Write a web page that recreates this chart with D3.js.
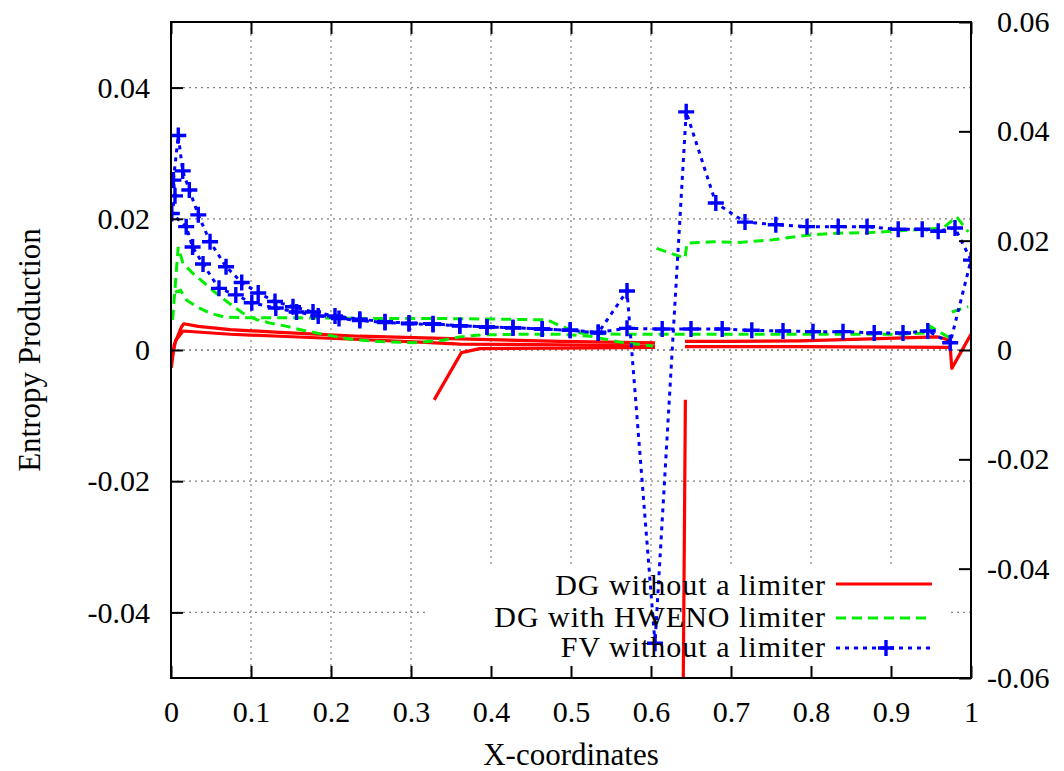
<!DOCTYPE html>
<html>
<head>
<meta charset="utf-8">
<script src="https://cdn.jsdelivr.net/npm/d3@7"></script>
<style>
  html, body { margin: 0; padding: 0; background: #fff; }
  svg { display: block; }
  text { font-family: "Liberation Serif", "DejaVu Serif", serif; fill: #000; }
</style>
</head>
<body>
<svg id="chart" width="1064" height="771"></svg>
<script>
// ---------------- data ----------------
const xTicks = [0, 0.1, 0.2, 0.3, 0.4, 0.5, 0.6, 0.7, 0.8, 0.9, 1];
const xTickLabels = ["0", "0.1", "0.2", "0.3", "0.4", "0.5", "0.6", "0.7", "0.8", "0.9", "1"];
const yTicks = [-0.04, -0.02, 0, 0.02, 0.04];
const yTickLabels = ["-0.04", "-0.02", "0", "0.02", "0.04"];
const y2Ticks = [-0.06, -0.04, -0.02, 0, 0.02, 0.04, 0.06];
const y2TickLabels = ["-0.06", "-0.04", "-0.02", "0", "0.02", "0.04", "0.06"];
const seriesNames = ["DG without a limiter", "DG with HWENO limiter", "FV without a limiter"];

// DG without a limiter (several blocks)
const dgUpperX = [0.0004, 0.004, 0.013, 0.016, 0.034, 0.074, 0.136, 0.236, 0.361, 0.486, 0.605, null, 0.6425, 0.699, 0.786, 0.874, 0.9575, 0.965, 0.976];
const dgUpperY = [-0.0027, 0.0008, 0.0035, 0.0040, 0.0036, 0.0031, 0.0027, 0.0021, 0.0017, 0.0013, 0.0011, null, 0.0013, 0.0013, 0.0014, 0.0017, 0.0020, 0.0018, 0.0013];
const dgLowerX = [0.001, 0.006, 0.015, 0.074, 0.136, 0.236, 0.311, 0.361, 0.486, 0.605];
const dgLowerY = [-0.0012, 0.0015, 0.0029, 0.0024, 0.0021, 0.0016, 0.0012, 0.0009, 0.0008, 0.0006];
const dgDiagX = [0.329, 0.363, 0.386, 0.486, 0.605, null, 0.6425, 0.786, 0.974, 0.976, 1.0];
const dgDiagY = [-0.0076, -0.0004, 0.0002, 0.0003, 0.0004, null, 0.0005, 0.0005, 0.0004, -0.0028, 0.0024];
const dgSpikeX = [0.643, 0.6394];
const dgSpikeY = [-0.0076, -0.0655];

// DG with HWENO limiter
const hwUpperX = [0.002, 0.009, 0.015, 0.028, 0.040, 0.055, 0.074, 0.090, 0.1075, 0.124, 0.145, 0.165, 0.186, 0.2075, 0.2275, 0.261, 0.3025, 0.340, 0.361, 0.386, 0.436, 0.486, 0.524, 0.561, 0.6025,
  null, 0.607, 0.6425, 0.645, 0.6775, 0.711, 0.7525, 0.795, 0.832, 0.874, 0.915, 0.965, 0.982, 0.9966];
const hwUpperY = [0.0046, 0.0157, 0.0132, 0.0116, 0.0104, 0.0088, 0.0070, 0.0056, 0.0046, 0.0041, 0.0036, 0.0030, 0.0025, 0.0020, 0.0016, 0.0013, 0.0011, 0.0015, 0.0020, 0.0023, 0.0024, 0.0024, 0.0021, 0.0012, 0.0006,
  null, 0.0155, 0.0140, 0.0163, 0.0165, 0.0164, 0.0168, 0.0175, 0.0178, 0.0179, 0.0182, 0.0186, 0.0203, 0.0180];
const hwLowerX = [0.005, 0.012, 0.0196, 0.032, 0.049, 0.0675, 0.1025, 0.161, 0.261, 0.336, 0.411, 0.47, 0.486, 0.511, 0.561, 0.661, 0.786, 0.911, 0.945, 0.949, 0.974];
const hwLowerY = [0.0088, 0.0091, 0.0076, 0.0066, 0.0056, 0.0050, 0.0049, 0.0049, 0.0048, 0.0048, 0.0047, 0.0046, 0.0037, 0.0026, 0.0024, 0.0024, 0.0024, 0.0024, 0.0026, 0.0036, 0.0018];
const hwTeX = [0.976, 0.9966];
const hwTeY = [0.0058, 0.0066];

// FV without a limiter (one closed loop around the surface)
const fvX = [0.974, 0.946, 0.915, 0.879, 0.840, 0.8025, 0.765, 0.726, 0.689, 0.650, 0.614, 0.570, 0.534, 0.499, 0.464, 0.4275, 0.395, 0.361, 0.3275, 0.2975, 0.2675, 0.236, 0.21, 0.184, 0.157, 0.131, 0.101, 0.081, 0.060, 0.040, 0.027, 0.019, 0.001, 0.005, 0.003,
  0.0091, 0.0146, 0.0229, 0.0341, 0.0488, 0.0688, 0.0884, 0.109, 0.130, 0.1525, 0.1775, 0.205, 0.236, 0.2675, 0.2975, 0.3275, 0.361, 0.395, 0.4275, 0.464, 0.499, 0.534, 0.570, 0.605, 0.644, 0.681, 0.7175, 0.756, 0.795, 0.834, 0.870, 0.909, 0.939, 0.959, 0.980, 1.000, 0.974];
const fvY = [0.0011, 0.0029, 0.0026, 0.0026, 0.0028, 0.0028, 0.0029, 0.0030, 0.0032, 0.0032, 0.0032, 0.0033, 0.0027, 0.0030, 0.0032, 0.0034, 0.0035, 0.0037, 0.0039, 0.0040, 0.0042, 0.0045, 0.0048, 0.0052, 0.0058, 0.0064, 0.0072, 0.0084, 0.0094, 0.0131, 0.0157, 0.0188, 0.0208, 0.0235, 0.0259,
  0.0327, 0.0273, 0.0244, 0.0206, 0.0165, 0.0127, 0.0103, 0.0087, 0.0074, 0.0066, 0.0058, 0.0052, 0.0047, 0.0043, 0.0041, 0.0040, 0.0037, 0.0035, 0.0034, 0.0032, 0.0030, 0.0026, 0.0090, -0.0447, 0.0363, 0.0224, 0.0195, 0.0191, 0.0188, 0.0188, 0.0188, 0.0184, 0.0184, 0.0181, 0.0186, 0.0137, 0.0011];

// ---------------- layout ----------------
const plot = { left: 171, right: 971, top: 22, bottom: 678 };
const FONT = 30;
const svg = d3.select("#chart");

const x = d3.scaleLinear().domain([0, 1]).range([plot.left, plot.right]);
const y = d3.scaleLinear().domain([-0.05, 0.05]).range([plot.bottom, plot.top]);
const y2 = d3.scaleLinear().domain([-0.06, 0.06]).range([plot.bottom, plot.top]);

const zip = (xs, ys) => xs.map((v, i) => ({ x: v, y: ys[i] }));
const line = d3.line().defined(d => d.x !== null && d.y !== null).x(d => x(d.x)).y(d => y(d.y));

const defs = svg.append("defs");
defs.append("clipPath").attr("id", "plotClip").append("rect")
  .attr("x", plot.left).attr("y", plot.top)
  .attr("width", plot.right - plot.left).attr("height", plot.bottom - plot.top);

// ---------------- grid ----------------
const grid = svg.append("g").attr("class", "grid");
grid.selectAll("line.gx").data(xTicks.filter(t => t > 0 && t < 1)).join("line")
  .attr("x1", d => x(d)).attr("x2", d => x(d))
  .attr("y1", plot.top).attr("y2", plot.bottom)
  .attr("stroke", "#808080").attr("stroke-width", 1.2).attr("stroke-dasharray", "2,4");
grid.selectAll("line.gy").data(yTicks).join("line")
  .attr("x1", plot.left).attr("x2", plot.right)
  .attr("y1", d => y(d)).attr("y2", d => y(d))
  .attr("stroke", d => d === 0 ? "#333" : "#808080").attr("stroke-width", 1.2).attr("stroke-dasharray", "2,4");

// key area keeps the grid out
const keyBox = { x0: 428, x1: 950, y0: 566, y1: plot.bottom };
svg.append("rect").attr("x", keyBox.x0).attr("y", keyBox.y0)
  .attr("width", keyBox.x1 - keyBox.x0).attr("height", keyBox.y1 - keyBox.y0)
  .attr("fill", "#fff");

// ---------------- data ----------------
const dataG = svg.append("g").attr("clip-path", "url(#plotClip)");
const red = "#ff0000", green = "#00ee00", blue = "#0000ff";

[[dgUpperX, dgUpperY], [dgLowerX, dgLowerY], [dgDiagX, dgDiagY], [dgSpikeX, dgSpikeY]].forEach(([xs, ys]) => {
  dataG.append("path").datum(zip(xs, ys)).attr("d", line)
    .attr("fill", "none").attr("stroke", red).attr("stroke-width", 3.2)
    .attr("stroke-linejoin", "round");
});

[[hwUpperX, hwUpperY], [hwLowerX, hwLowerY], [hwTeX, hwTeY]].forEach(([xs, ys]) => {
  dataG.append("path").datum(zip(xs, ys)).attr("d", line)
    .attr("fill", "none").attr("stroke", green).attr("stroke-width", 3)
    .attr("stroke-dasharray", "10,6");
});

const fvData = zip(fvX, fvY);
dataG.append("path").datum(fvData).attr("d", line)
  .attr("fill", "none").attr("stroke", blue).attr("stroke-width", 3)
  .attr("stroke-dasharray", "4,5");
const plus = (g, cx, cy, s) => {
  g.append("path")
    .attr("d", `M${cx - s},${cy}H${cx + s}M${cx},${cy - s}V${cy + s}`)
    .attr("stroke", blue).attr("stroke-width", 3.4).attr("fill", "none");
};
fvData.slice(0, fvData.length - 1).forEach(d => plus(dataG, x(d.x), y(d.y), 8));

// ---------------- axes ----------------
const axL = d3.axisLeft(y).tickValues(yTicks).tickFormat((d, i) => yTickLabels[i]).tickSize(-12).tickPadding(21);
const axB = d3.axisBottom(x).tickValues(xTicks).tickFormat((d, i) => xTickLabels[i]).tickSize(-12).tickPadding(23);
const axT = d3.axisTop(x).tickValues(xTicks).tickFormat("").tickSize(-12);
const axR = d3.axisRight(y2).tickValues(y2Ticks).tickFormat((d, i) => y2TickLabels[i]).tickSize(-12).tickPadding(26);

function styleAxis(g) {
  g.select(".domain").remove();
  g.selectAll(".tick line").attr("stroke", "#000").attr("stroke-width", 2);
  g.selectAll(".tick text").attr("font-size", FONT).attr("font-family", "Liberation Serif").attr("fill", "#000");
}
svg.append("g").attr("transform", `translate(${plot.left},0)`).call(axL).call(styleAxis);
svg.append("g").attr("transform", `translate(0,${plot.bottom})`).call(axB).call(styleAxis);
svg.append("g").attr("transform", `translate(0,${plot.top})`).call(axT).call(styleAxis);
const gR = svg.append("g").attr("transform", `translate(${plot.right},0)`).call(axR).call(styleAxis);
gR.selectAll(".tick text").attr("dx", d => d < 0 ? -10 : 0);

// frame
svg.append("rect").attr("x", plot.left).attr("y", plot.top)
  .attr("width", plot.right - plot.left).attr("height", plot.bottom - plot.top)
  .attr("fill", "none").attr("stroke", "#000").attr("stroke-width", 2);

// axis titles
svg.append("text").attr("x", 571).attr("y", 765)
  .attr("text-anchor", "middle").attr("font-size", 31).text("X-coordinates");
svg.append("text").attr("transform", `translate(40,${(plot.top + plot.bottom) / 2}) rotate(-90)`)
  .attr("text-anchor", "middle").attr("font-size", 31).text("Entropy Production");

// ---------------- legend ----------------
const legendRows = [
  { name: seriesNames[0], color: red, dash: null, marker: false, yText: 595, yLine: 584 },
  { name: seriesNames[1], color: green, dash: "10,6", marker: false, yText: 627, yLine: 618 },
  { name: seriesNames[2], color: blue, dash: "4,5", marker: true, yText: 657, yLine: 648 }
];
const lg = svg.append("g");
legendRows.forEach(r => {
  lg.append("text").attr("x", 826).attr("y", r.yText).attr("text-anchor", "end")
    .attr("font-size", FONT).attr("letter-spacing", "1px").text(r.name);
  lg.append("line").attr("x1", 836).attr("x2", 932).attr("y1", r.yLine).attr("y2", r.yLine)
    .attr("stroke", r.color).attr("stroke-width", 3).attr("stroke-dasharray", r.dash);
  if (r.marker) plus(lg, 886, r.yLine, 8);
});
</script>
</body>
</html>
